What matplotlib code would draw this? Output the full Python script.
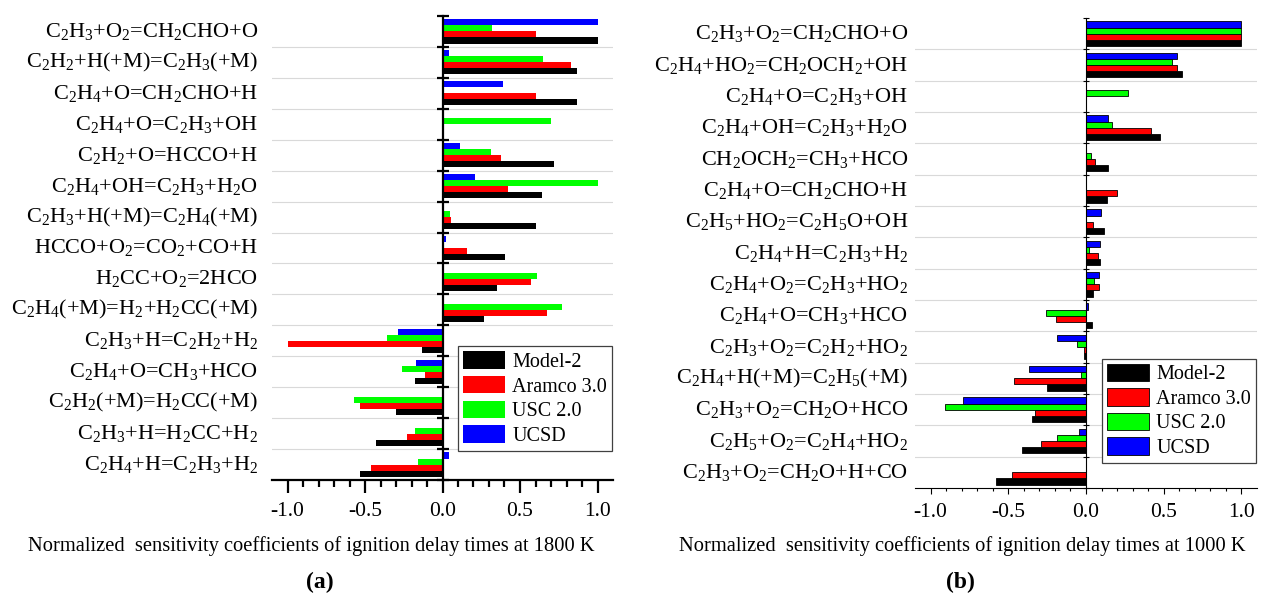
import matplotlib
matplotlib.use('Agg')
import matplotlib.pyplot as plt
import numpy as np

plt.rcParams['font.family'] = ['Liberation Serif', 'DejaVu Serif']
plt.rcParams['mathtext.default'] = 'regular'

series_names = ['Model-2', 'Aramco 3.0', 'USC 2.0', 'UCSD']
series_colors = ['#000000', '#ff0000', '#00ff00', '#0000ff']

# panel (a): 1800 K
labels_a = [
    'C$_2$H$_3$+O$_2$=CH$_2$CHO+O',
    'C$_2$H$_2$+H(+M)=C$_2$H$_3$(+M)',
    'C$_2$H$_4$+O=CH$_2$CHO+H',
    'C$_2$H$_4$+O=C$_2$H$_3$+OH',
    'C$_2$H$_2$+O=HCCO+H',
    'C$_2$H$_4$+OH=C$_2$H$_3$+H$_2$O',
    'C$_2$H$_3$+H(+M)=C$_2$H$_4$(+M)',
    'HCCO+O$_2$=CO$_2$+CO+H',
    'H$_2$CC+O$_2$=2HCO',
    'C$_2$H$_4$(+M)=H$_2$+H$_2$CC(+M)',
    'C$_2$H$_3$+H=C$_2$H$_2$+H$_2$',
    'C$_2$H$_4$+O=CH$_3$+HCO',
    'C$_2$H$_2$(+M)=H$_2$CC(+M)',
    'C$_2$H$_3$+H=H$_2$CC+H$_2$',
    'C$_2$H$_4$+H=C$_2$H$_3$+H$_2$',
]
model2_a = [1.0, 0.87, 0.87, 0.0, 0.72, 0.64, 0.60, 0.40, 0.35, 0.27,
            -0.135, -0.18, -0.30, -0.43, -0.535]
aramco_a = [0.60, 0.83, 0.60, 0.0, 0.38, 0.42, 0.058, 0.16, 0.57, 0.675,
            -1.0, -0.11, -0.53, -0.23, -0.46]
usc_a = [0.32, 0.65, 0.0, 0.70, 0.31, 1.0, 0.05, 0.0, 0.61, 0.77,
         -0.36, -0.26, -0.57, -0.176, -0.16]
ucsd_a = [1.0, 0.045, 0.39, 0.0, 0.116, 0.21, 0.0, 0.02, 0.0, 0.0,
          -0.29, -0.174, 0.0, 0.0, 0.043]

# panel (b): 1000 K
labels_b = [
    'C$_2$H$_3$+O$_2$=CH$_2$CHO+O',
    'C$_2$H$_4$+HO$_2$=CH$_2$OCH$_2$+OH',
    'C$_2$H$_4$+O=C$_2$H$_3$+OH',
    'C$_2$H$_4$+OH=C$_2$H$_3$+H$_2$O',
    'CH$_2$OCH$_2$=CH$_3$+HCO',
    'C$_2$H$_4$+O=CH$_2$CHO+H',
    'C$_2$H$_5$+HO$_2$=C$_2$H$_5$O+OH',
    'C$_2$H$_4$+H=C$_2$H$_3$+H$_2$',
    'C$_2$H$_4$+O$_2$=C$_2$H$_3$+HO$_2$',
    'C$_2$H$_4$+O=CH$_3$+HCO',
    'C$_2$H$_3$+O$_2$=C$_2$H$_2$+HO$_2$',
    'C$_2$H$_4$+H(+M)=C$_2$H$_5$(+M)',
    'C$_2$H$_3$+O$_2$=CH$_2$O+HCO',
    'C$_2$H$_5$+O$_2$=C$_2$H$_4$+HO$_2$',
    'C$_2$H$_3$+O$_2$=CH$_2$O+H+CO',
]
model2_b = [1.0, 0.62, 0.0, 0.474, 0.144, 0.137, 0.114, 0.088, 0.045, 0.039,
            -0.015, -0.249, -0.35, -0.414, -0.577]
aramco_b = [1.0, 0.584, 0.0, 0.42, 0.058, 0.20, 0.047, 0.075, 0.084, -0.19,
            -0.011, -0.464, -0.33, -0.29, -0.476]
usc_b = [1.0, 0.554, 0.268, 0.167, 0.032, 0.0, 0.0, 0.02, 0.054, -0.255,
         -0.058, -0.034, -0.908, -0.187, 0.0]
ucsd_b = [1.0, 0.586, 0.0, 0.14, 0.0, 0.0, 0.097, 0.09, 0.086, 0.01,
          -0.187, -0.365, -0.792, -0.047, 0.0]

xticks = [-1.0, -0.5, 0.0, 0.5, 1.0]


def draw_panel(ax, labels, values, lw, label_off, edge, legend_anchor):
    n = len(labels)
    y = np.arange(n)
    h = 0.195
    # black at the bottom of each group, blue at the top
    offsets = [1.5 * h, 0.5 * h, -0.5 * h, -1.5 * h]
    for vals, name, col, off in zip(values, series_names, series_colors, offsets):
        ax.barh(y + off, vals, height=h, color=col, label=name,
                edgecolor=edge, linewidth=0.6 if edge != 'none' else 0,
                zorder=3)

    for b in np.arange(0.5, n - 1, 1.0):
        ax.axhline(b, color='#d9d9d9', linewidth=0.8, zorder=1)

    ax.set_xlim(-1.1, 1.1)
    ax.set_ylim(n - 0.5, -0.5)

    for s in ['top', 'right']:
        ax.spines[s].set_visible(False)
    ax.spines['left'].set_position(('data', 0))
    ax.spines['left'].set_linewidth(lw)
    ax.spines['left'].set_zorder(4)
    ax.spines['bottom'].set_linewidth(lw)

    ax.set_yticks(np.arange(-0.5, n, 1.0))
    ax.set_yticklabels([])
    ax.tick_params(axis='y', direction='inout', length=8 if lw > 1 else 5,
                   width=lw)
    for yi, lab in zip(y, labels):
        ax.text(label_off, yi, lab, transform=ax.get_yaxis_transform(),
                ha='right', va='center', fontsize=16)

    ax.set_xticks(xticks)
    ax.set_xticklabels(['%.1f' % t for t in xticks])
    ax.set_xticks(np.arange(-1.0, 1.05, 0.1), minor=True)
    if lw > 1:
        ax.tick_params(axis='x', which='major', direction='out', length=9,
                       width=lw, pad=7, labelsize=15.5)
        ax.tick_params(axis='x', which='minor', direction='out', length=5,
                       width=lw)
    else:
        ax.tick_params(axis='x', which='major', direction='out', length=4.5,
                       width=lw, pad=6, labelsize=15.5)
        ax.tick_params(axis='x', which='minor', direction='out', length=2.5,
                       width=lw)

    handles, labs = ax.get_legend_handles_labels()
    leg = ax.legend(handles, labs, loc='lower right',
                    bbox_to_anchor=legend_anchor, borderaxespad=0,
                    fontsize=14.5, handlelength=2.1, handleheight=0.95,
                    labelspacing=0.2, handletextpad=0.35, borderpad=0.25,
                    fancybox=False, framealpha=1)
    leg.get_frame().set_edgecolor('#404040')
    leg.get_frame().set_linewidth(0.9)
    leg.set_zorder(5)


fig = plt.figure(figsize=(12.65, 6.02), dpi=100)

ax_a = fig.add_axes([272 / 1265, 122 / 602, 341 / 1265, 464 / 602])
draw_panel(ax_a, labels_a, [model2_a, aramco_a, usc_a, ucsd_a],
           lw=1.6, label_off=-14 / 341, edge='none',
           legend_anchor=(0.997, 0.0625))

ax_b = fig.add_axes([915 / 1265, 114 / 602, 342 / 1265, 470 / 602])
draw_panel(ax_b, labels_b, [model2_b, aramco_b, usc_b, ucsd_b],
           lw=0.8, label_off=-7 / 342, edge='#000000',
           legend_anchor=(0.997, 0.053))

fig.text(311 / 1265, 1 - 546 / 602,
         'Normalized  sensitivity coefficients of ignition delay times at 1800 K',
         ha='center', va='center', fontsize=14.8)
fig.text(962 / 1265, 1 - 546 / 602,
         'Normalized  sensitivity coefficients of ignition delay times at 1000 K',
         ha='center', va='center', fontsize=14.8)
fig.text(320 / 1265, 1 - 582 / 602, '(a)', ha='center', va='center',
         fontsize=17, fontweight='bold')
fig.text(960 / 1265, 1 - 582 / 602, '(b)', ha='center', va='center',
         fontsize=17, fontweight='bold')

fig.savefig('out.png', dpi=100)
